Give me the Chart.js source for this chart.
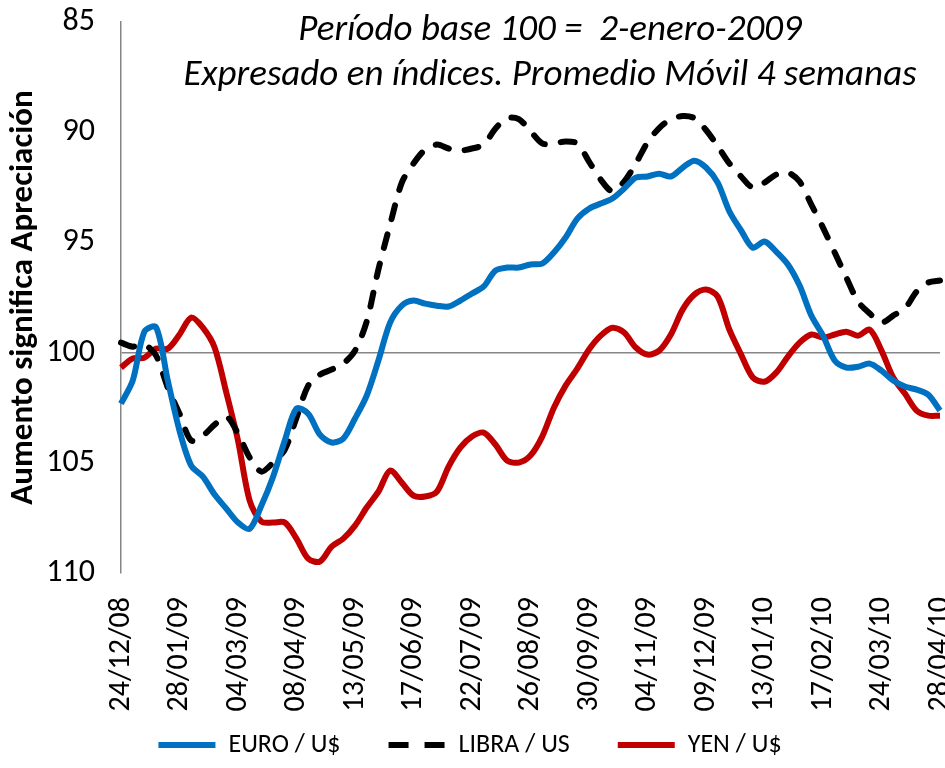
<!DOCTYPE html>
<html lang="es">
<head>
    <meta charset="UTF-8">
    <title>Euro, Libra y Yen frente al dólar</title>
    <script src="https://cdn.jsdelivr.net/npm/chart.js"></script>
    <style>
        html, body {
            margin: 0;
            padding: 0;
            background: #ffffff;
        }
        .wrap {
            width: 945px;
            height: 768px;
        }
    </style>
</head>
<body>
    <div class="wrap"><canvas id="fxChart" width="945" height="768"></canvas></div>

    <script>
        // weekly dates, first one 24/12/08 (label shown every 5 weeks)
        const startDate = Date.UTC(2008, 11, 24);
        const weeks = 71;
        const labelEvery = 5;

        const titleLines = ['Período base 100 =  2-enero-2009', 'Expresado en índices. Promedio Móvil 4 semanas'];
        const yTicks = [85, 90, 95, 100, 105, 110];

        const euro = [102.31, 101.27, 99.05, 98.85, 101.27, 103.54, 105.13, 105.63, 106.44, 107.08,
            107.71, 107.99, 106.94, 105.63, 103.99, 102.54, 102.77, 103.72, 104.08, 103.9,
            102.99, 101.95, 100.36, 98.64, 97.87, 97.64, 97.78, 97.87, 97.91, 97.64,
            97.32, 97.0, 96.28, 96.14, 96.14, 96.0, 95.96, 95.46, 94.78, 93.92,
            93.47, 93.24, 93.01, 92.56, 92.06, 92.01, 91.88, 92.01, 91.61, 91.29,
            91.6, 92.29, 93.6, 94.46, 95.24, 94.96, 95.42, 96.0, 96.96, 98.32,
            99.23, 100.36, 100.68, 100.64, 100.5, 100.82, 101.27, 101.54, 101.68, 101.91,
            102.63];

        const libra = [99.55, 99.73, 99.64, 100.14, 101.59, 102.77, 103.99, 103.77, 103.27, 102.9,
            103.68, 104.76, 105.4, 104.99, 104.4, 102.95, 101.5, 101.0, 100.77, 100.5,
            99.91, 98.59, 96.23, 94.19, 92.29, 91.42, 90.79, 90.56, 90.74, 90.83,
            90.74, 90.56, 89.84, 89.36, 89.41, 89.95, 90.51, 90.51, 90.42, 90.51,
            91.33, 92.15, 92.69, 92.24, 91.42, 90.46, 89.81, 89.41, 89.27, 89.36,
            89.9, 90.63, 91.42, 92.01, 92.51, 92.29, 91.92, 91.83, 92.24, 93.28,
            94.33, 95.46, 96.6, 97.69, 98.23, 98.64, 98.32, 98.0, 97.23, 96.82,
            96.73];

        const yen = [100.68, 100.27, 100.23, 99.82, 99.82, 99.18, 98.41, 98.87, 99.77, 101.81,
            103.99, 106.72, 107.67, 107.71, 107.71, 108.44, 109.35, 109.48, 108.8, 108.44,
            107.85, 107.03, 106.31, 105.35, 105.9, 106.49, 106.53, 106.31, 105.17, 104.31,
            103.81, 103.63, 104.17, 104.9, 104.99, 104.67, 103.81, 102.5, 101.5, 100.73,
            99.86, 99.23, 98.87, 99.09, 99.77, 100.09, 99.91, 99.18, 98.05, 97.37,
            97.14, 97.46, 98.96, 100.09, 101.13, 101.32, 100.91, 100.18, 99.55, 99.18,
            99.32, 99.18, 99.05, 99.23, 98.96, 99.91, 101.13, 101.86, 102.63, 102.86,
            102.86];

        const fontFam = "'Carlito', 'Liberation Sans Narrow', 'Liberation Sans', sans-serif";

        function fmtDate(ms) {
            const d = new Date(ms);
            const dd = String(d.getUTCDate()).padStart(2, '0');
            const mm = String(d.getUTCMonth() + 1).padStart(2, '0');
            const yy = String(d.getUTCFullYear()).slice(2);
            return dd + '/' + mm + '/' + yy;
        }

        const categories = [];
        for (let i = 0; i < weeks; i++) {
            categories.push(fmtDate(startDate + i * 7 * 86400000));
        }

        // italic title drawn inside the plot area
        const titlePlugin = {
            id: 'innerTitle',
            afterDraw(chart) {
                const ctx = chart.ctx;
                const area = chart.chartArea;
                ctx.save();
                ctx.fillStyle = '#000';
                ctx.font = 'italic 37px ' + fontFam;
                ctx.textAlign = 'center';
                ctx.textBaseline = 'middle';
                const cx = area.left + 429;
                ctx.fillText(titleLines[0], cx, 31);
                ctx.fillText(titleLines[1], cx, 76);
                ctx.restore();
            }
        };

        // legend samples: keep the dataset's dash (point style drops it)
        const legendDash = [[], [20, 16], []];

        const ctx = document.getElementById('fxChart').getContext('2d');
        new Chart(ctx, {
            type: 'line',
            data: {
                labels: categories,
                datasets: [{
                    label: 'EURO / U$',
                    data: euro,
                    borderColor: '#0070C0',
                    backgroundColor: '#0070C0',
                    borderWidth: 6,
                    pointRadius: 0,
                    tension: 0.3
                }, {
                    label: 'LIBRA / US',
                    data: libra,
                    borderColor: '#000000',
                    backgroundColor: '#000000',
                    borderWidth: 6,
                    borderDash: [14, 16],
                    borderCapStyle: 'round',
                    pointRadius: 0,
                    tension: 0.3
                }, {
                    label: 'YEN / U$',
                    data: yen,
                    borderColor: '#C00000',
                    backgroundColor: '#C00000',
                    borderWidth: 6,
                    pointRadius: 0,
                    tension: 0.3
                }]
            },
            options: {
                responsive: false,
                animation: false,
                layout: {
                    padding: { top: 22, right: 5, bottom: 0, left: 0 }
                },
                plugins: {
                    legend: {
                        position: 'bottom',
                        labels: {
                            usePointStyle: true,
                            pointStyle: 'line',
                            pointStyleWidth: 57,
                            color: '#000',
                            padding: 48,
                            font: { family: fontFam, size: 26 },
                            generateLabels: function (chart) {
                                const items = Chart.defaults.plugins.legend.labels.generateLabels(chart);
                                items.forEach(it => {
                                    const ds = chart.data.datasets[it.datasetIndex];
                                    it.lineDash = legendDash[it.datasetIndex];
                                    it.lineWidth = 6;
                                    it.lineCap = 'butt';
                                    it.strokeStyle = ds.borderColor;
                                    it.fillStyle = ds.borderColor;
                                });
                                return items;
                            }
                        }
                    },
                    tooltip: { enabled: false }
                },
                scales: {
                    x: {
                        grid: { display: false, drawTicks: false },
                        border: { display: false },
                        ticks: {
                            autoSkip: false,
                            maxRotation: 90,
                            minRotation: 90,
                            padding: 24,
                            color: '#000',
                            font: { family: fontFam, size: 30 },
                            callback: function (val, idx) {
                                return idx % labelEvery === 0 ? categories[idx] : '';
                            }
                        },
                        afterFit: function (s) {
                            s.height = 111;
                            s.paddingLeft = 0;
                            s.paddingRight = 0;
                            // labels run into the legend band, don't clip them
                            s._computeLabelArea = function () { return undefined; };
                        }
                    },
                    y: {
                        reverse: true,
                        min: yTicks[0],
                        max: yTicks[yTicks.length - 1],
                        afterBuildTicks: function (s) {
                            s.ticks = yTicks.map(v => ({ value: v }));
                        },
                        grid: {
                            drawTicks: false,
                            lineWidth: 1.5,
                            color: c => (c.tick && c.tick.value === 100 ? '#868686' : 'rgba(0,0,0,0)')
                        },
                        border: { display: true, color: '#868686', width: 1.5 },
                        ticks: {
                            padding: 26,
                            color: '#000',
                            font: { family: fontFam, size: 32 }
                        },
                        title: {
                            display: true,
                            text: 'Aumento significa Apreciación',
                            color: '#000',
                            padding: { top: 4, bottom: 0 },
                            font: { family: fontFam, size: 33, weight: 'bold' }
                        },
                        afterFit: function (s) {
                            s.width = 121;
                            s.paddingTop = 0;
                            s.paddingBottom = 0;
                        }
                    }
                }
            },
            plugins: [titlePlugin]
        });
    </script>
</body>
</html>
